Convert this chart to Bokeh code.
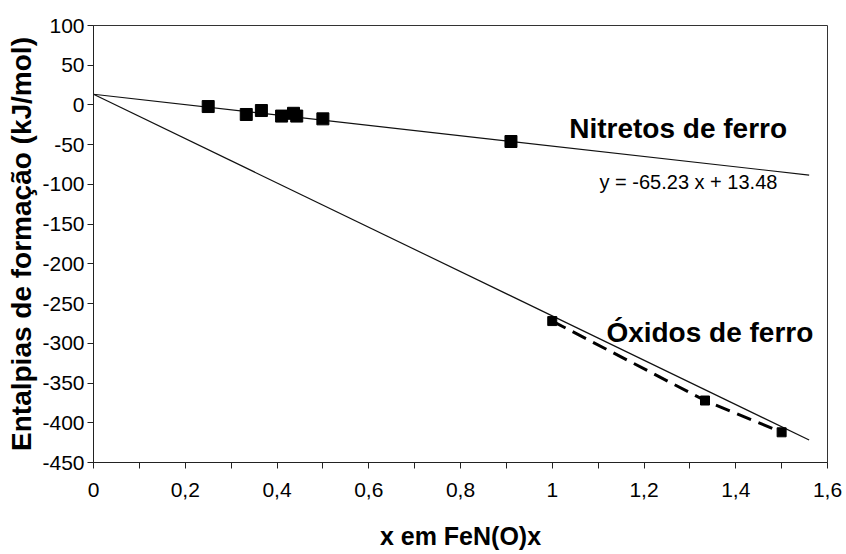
from bokeh.plotting import figure
from bokeh.models import Range1d, FixedTicker, Label
from bokeh.embed import file_html
from bokeh.resources import INLINE

# Enthalpies of formation (kJ/mol) versus x in FeN(O)x
nitride_x = [0.25, 0.333, 0.366, 0.41, 0.436, 0.443, 0.5, 0.91]
nitride_y = [-2.0, -12.0, -7.0, -14.0, -10.5, -14.0, -17.5, -46.0]

oxide_x = [1.0, 1.333, 1.5]
oxide_y = [-272.0, -372.0, -412.0]

# Linear trend for the nitrides (stated on the chart) and the oxide guide line
nitride_slope, nitride_intercept = -65.23, 13.48
oxide_slope, oxide_intercept = -279.0, 13.48
fit_x = [0.0, 1.56]

x_ticks = [0.0, 0.2, 0.4, 0.6, 0.8, 1.0, 1.2, 1.4, 1.6]
x_tick_labels = ["0", "0,2", "0,4", "0,6", "0,8", "1", "1,2", "1,4", "1,6"]
x_minor = [0.1, 0.3, 0.5, 0.7, 0.9, 1.1, 1.3, 1.5]
y_ticks = [100, 50, 0, -50, -100, -150, -200, -250, -300, -350, -400, -450]
y_tick_labels = [str(v) for v in y_ticks]

FONT = "Liberation Sans"

p = figure(width=846, height=554, output_backend="svg", toolbar_location=None,
           x_range=Range1d(0, 1.6), y_range=Range1d(-450, 100),
           min_border_left=93, min_border_right=19, min_border_top=25,
           min_border_bottom=92, background_fill_color="white",
           border_fill_color="white")
p.grid.visible = False
p.outline_line_color = "#333333"
p.outline_line_width = 1

# x axis
xa = p.xaxis[0]
xa.ticker = FixedTicker(ticks=x_ticks, minor_ticks=x_minor)
xa.major_label_overrides = {t: l for t, l in zip(x_ticks, x_tick_labels)}
xa.axis_label = "x em FeN(O)x"
# y axis
ya = p.yaxis[0]
ya.ticker = FixedTicker(ticks=y_ticks)
ya.major_label_overrides = {t: l for t, l in zip(y_ticks, y_tick_labels)}
ya.axis_label = "Entalpias de formação (kJ/mol)"

for ax in (xa, ya):
    ax.axis_line_color = "#222222"
    ax.axis_line_width = 1
    ax.major_tick_line_color = "#222222"
    ax.minor_tick_line_color = "#222222"
    ax.major_tick_in = 0
    ax.major_tick_out = 6
    ax.minor_tick_in = 0
    ax.minor_tick_out = 6
    ax.major_label_text_font = FONT
    ax.major_label_text_font_size = "21px"
    ax.major_label_text_color = "black"
    ax.axis_label_text_font = FONT
    ax.axis_label_text_font_style = "bold"
    ax.axis_label_text_color = "black"

ya.minor_tick_out = 0
ya.major_label_standoff = 3
ya.axis_label_text_font_size = "28px"
ya.axis_label_standoff = 2
xa.major_label_standoff = 14
xa.axis_label_text_font_size = "25px"
xa.axis_label_standoff = 22

# fitted lines
p.line(fit_x, [nitride_slope * x + nitride_intercept for x in fit_x],
       line_color="#111111", line_width=1.2)
p.line(fit_x, [oxide_slope * x + oxide_intercept for x in fit_x],
       line_color="#111111", line_width=1.2)

# oxide points joined by a dashed line
p.line(oxide_x, oxide_y, line_color="black", line_width=3, line_dash="15 8")

p.scatter(nitride_x, nitride_y, marker="square", size=12,
          fill_color="black", line_color="black")
p.scatter(oxide_x, oxide_y, marker="square", size=9,
          fill_color="black", line_color="black")

# annotations
p.add_layout(Label(x=1.037, y=-30, text="Nitretos de ferro", text_font=FONT,
                   text_font_style="bold", text_font_size="28px",
                   text_color="black", text_baseline="alphabetic"))
p.add_layout(Label(x=1.103, y=-97.5, text="y = -65.23 x + 13.48", text_font=FONT,
                   text_font_size="20px", text_color="black",
                   text_baseline="alphabetic"))
p.add_layout(Label(x=1.118, y=-286, text="Óxidos de ferro", text_font=FONT,
                   text_font_style="bold", text_font_size="28px",
                   text_color="black", text_baseline="alphabetic"))

open("out.html", "w").write(file_html(p, INLINE))
